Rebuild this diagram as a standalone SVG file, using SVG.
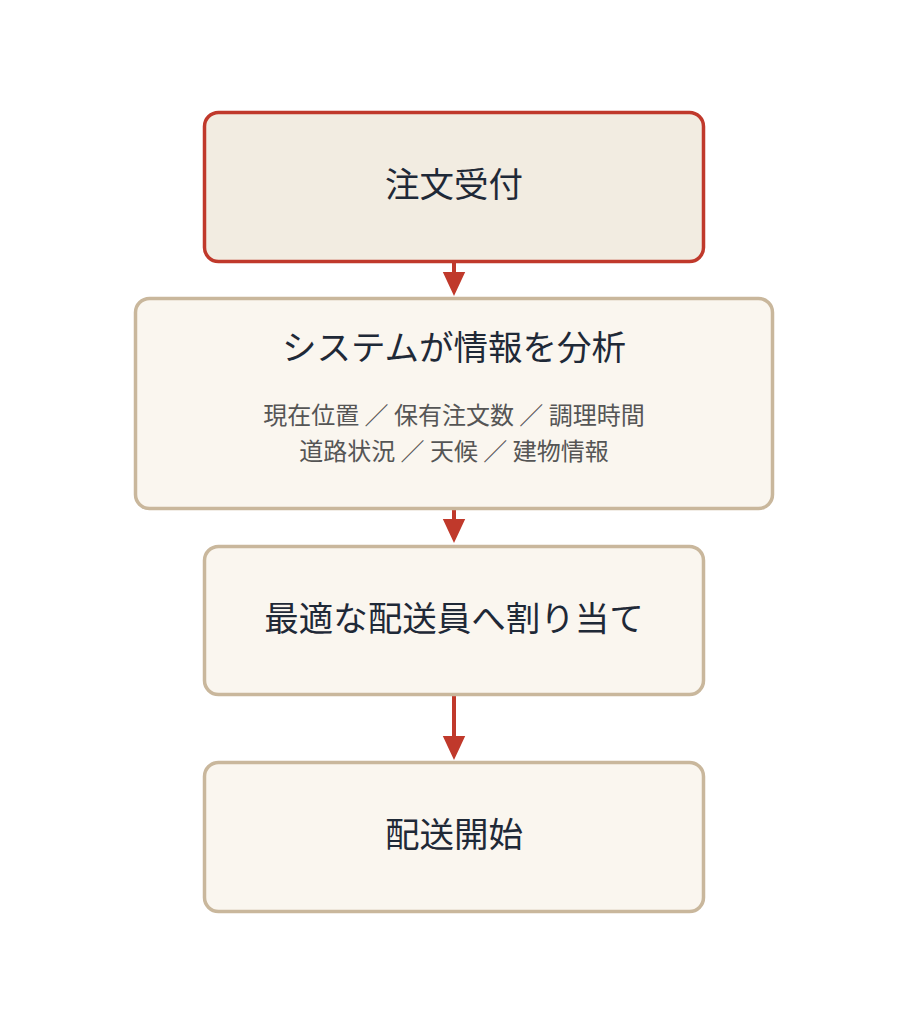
<svg xmlns="http://www.w3.org/2000/svg" width="907" height="1025" viewBox="0 0 907 1025">
<style>
.box{fill:#faf6ef;stroke:#c9b79c;stroke-width:3.5}
.start{fill:#f2ece1;stroke:#c0392b;stroke-width:3.5}
.t{font-family:"Noto Sans CJK JP","Noto Sans",sans-serif;font-size:34.5px;fill:#1f2937;text-anchor:middle;dominant-baseline:central}
.s{font-family:"Noto Sans CJK JP","Noto Sans",sans-serif;font-size:24px;fill:#555555;text-anchor:middle;dominant-baseline:central}
.c{stroke:#c0392b;stroke-width:4;fill:none}
</style>
<defs>
<marker id="ah" markerWidth="6" markerHeight="6" refX="5" refY="3" orient="auto" markerUnits="strokeWidth" viewBox="0 0 6 6">
<path d="M0,0.2 L6,3 L0,5.8 Z" fill="#c0392b"/>
</marker>
</defs>
<rect width="907" height="1025" fill="#ffffff"/>
<g id="connectors">
<line class="c" x1="454" y1="262" x2="454" y2="292" marker-end="url(#ah)"/>
<line class="c" x1="454" y1="509" x2="454" y2="539" marker-end="url(#ah)"/>
<line class="c" x1="454" y1="695" x2="454" y2="756" marker-end="url(#ah)"/>
</g>
<g id="node1">
<rect class="start" x="204.5" y="112.5" width="499" height="149" rx="14"/>
<text class="t" x="454" y="182">注文受付</text>
</g>
<g id="node2">
<rect class="box" x="135.5" y="298.5" width="637" height="210" rx="14"/>
<text class="t" x="454" y="345">システムが情報を分析</text>
<text class="s" x="454" y="413">現在位置 ／ 保有注文数 ／ 調理時間</text>
<text class="s" x="454" y="449">道路状況 ／ 天候 ／ 建物情報</text>
</g>
<g id="node3">
<rect class="box" x="204.5" y="546.5" width="499" height="148" rx="14"/>
<text class="t" x="454" y="616">最適な配送員へ割り当て</text>
</g>
<g id="node4">
<rect class="box" x="204.5" y="762.5" width="499" height="149" rx="14"/>
<text class="t" x="454" y="832">配送開始</text>
</g>
</svg>
